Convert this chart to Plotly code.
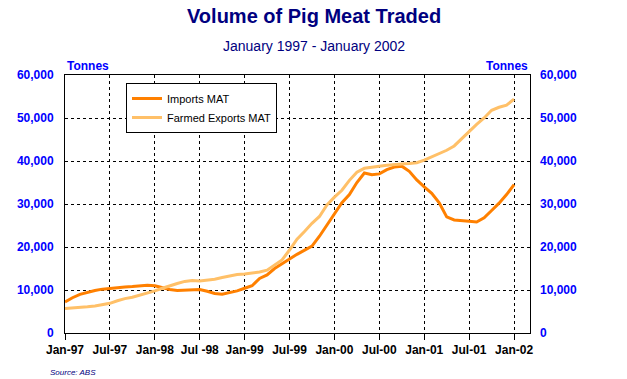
import plotly.graph_objects as go

months = list(range(61))  # Jan-97 .. Jan-02 (monthly)
tick_months = [0, 6, 12, 18, 24, 30, 36, 42, 48, 54, 60]
tick_labels = ["Jan-97", "Jul-97", "Jan-98", "Jul -98", "Jan-99", "Jul-99",
               "Jan-00", "Jul-00", "Jan-01", "Jul-01", "Jan-02"]
y_ticks = [0, 10000, 20000, 30000, 40000, 50000, 60000]
y_tick_labels = ["0", "10,000", "20,000", "30,000", "40,000", "50,000", "60,000"]

imports_mat = [
    7200, 8200, 9000, 9500, 9900, 10200, 10400, 10600, 10700, 10800, 11000, 11100,
    11000, 10500, 10100, 9900, 10000, 10100, 10100, 9700, 9200, 9000, 9400, 9800,
    10400, 11000, 12700, 13500, 15000, 16200, 17200, 18300, 19300, 20200, 22500, 25200,
    27800, 30300, 32200, 35000, 37200, 36800, 37000, 38000, 38600, 38800, 37600, 35600,
    34000, 32500, 30300, 27000, 26300, 26200, 26000, 25800, 26800, 28500, 30200, 32200,
    34500,
]
farmed_exports_mat = [
    5700, 5800, 5900, 6100, 6300, 6600, 6900, 7500, 8000, 8300, 8800, 9200,
    9800, 10400, 11000, 11500, 12000, 12200, 12100, 12300, 12500, 12900, 13300, 13600,
    13700, 13900, 14200, 14600, 15800, 17000, 19300, 21800, 23600, 25500, 27100, 29800,
    31600, 33200, 35500, 37400, 38300, 38600, 38800, 39000, 39200, 39300, 39400, 39600,
    40200, 41000, 41800, 42500, 43500, 45200, 46800, 48500, 50000, 51800, 52500, 53000,
    54400,
]

FONT = "Liberation Sans, Arial, sans-serif"
NAVY = "#000080"
BLUE = "#0000FF"

fig = go.Figure()
fig.add_trace(go.Scatter(x=months, y=imports_mat, mode="lines", name="Imports MAT",
                         line=dict(color="#FF8000", width=3)))
fig.add_trace(go.Scatter(x=months, y=farmed_exports_mat, mode="lines", name="Farmed Exports MAT",
                         line=dict(color="#FFC068", width=3)))
fig.add_trace(go.Scatter(x=months, y=farmed_exports_mat, yaxis="y2", mode="lines",
                         line=dict(width=0, color="rgba(0,0,0,0)"), showlegend=False,
                         hoverinfo="skip"))

L, R, T, B = 65, 97, 75, 46
W, H = 627, 379
pw, ph = W - L - R, H - T - B

def px_x(x):
    return (x - L) / pw

def px_y(y):
    return (H - B - y) / ph

fig.update_layout(
    width=W, height=H,
    margin=dict(l=L, r=R, t=T, b=B, pad=0, autoexpand=False),
    paper_bgcolor="white", plot_bgcolor="white",
    showlegend=True,
    legend=dict(x=px_x(126), y=px_y(83), xanchor="left", yanchor="top",
                bgcolor="white", bordercolor="black", borderwidth=1,
                font=dict(family=FONT, size=11, color="black"),
                itemwidth=30, tracegroupgap=0),
    xaxis=dict(range=[0, 62.13], tickmode="array", tickvals=tick_months, ticktext=tick_labels,
               showgrid=True, gridcolor="black", griddash="3px,3px", gridwidth=1,
               showline=True, linecolor="black", linewidth=1, mirror=True,
               ticks="outside", ticklen=6, tickcolor="black", tickwidth=1,
               tickfont=dict(family=FONT, size=12, color="black", weight="bold"),
               zeroline=False),
    yaxis=dict(range=[0, 60000], tickmode="array", tickvals=y_ticks, ticktext=y_tick_labels,
               showgrid=True, gridcolor="black", griddash="3px,3px", gridwidth=1,
               showline=True, linecolor="black", linewidth=1, mirror=True,
               ticks="", ticklabelstandoff=8,
               tickfont=dict(family=FONT, size=12, color=BLUE, weight="bold"),
               zeroline=False),
    yaxis2=dict(range=[0, 60000], overlaying="y", side="right", tickmode="array",
                tickvals=y_ticks, ticktext=y_tick_labels, showgrid=False, showline=False,
                ticks="", ticklabelstandoff=9, zeroline=False,
                tickfont=dict(family=FONT, size=12, color=BLUE, weight="bold")),
    annotations=[
        dict(text="<b>Volume of Pig Meat Traded</b>", x=px_x(313.5), y=px_y(16),
             xref="paper", yref="paper", showarrow=False, xanchor="center", yanchor="middle",
             font=dict(family=FONT, size=20, color=NAVY)),
        dict(text="January 1997 - January 2002", x=px_x(313.5), y=px_y(46),
             xref="paper", yref="paper", showarrow=False, xanchor="center", yanchor="middle",
             font=dict(family=FONT, size=14, color=NAVY)),
        dict(text="<b>Tonnes</b>", x=0, y=px_y(66), xref="paper", yref="paper",
             showarrow=False, xanchor="left", yanchor="middle",
             font=dict(family=FONT, size=12, color=BLUE)),
        dict(text="<b>Tonnes</b>", x=1, y=px_y(66), xref="paper", yref="paper",
             showarrow=False, xanchor="right", yanchor="middle",
             font=dict(family=FONT, size=12, color=BLUE)),
        dict(text="<i>Source: ABS</i>", x=px_x(48), y=px_y(372), xref="paper", yref="paper",
             showarrow=False, xanchor="left", yanchor="middle",
             font=dict(family=FONT, size=8, color=NAVY)),
    ],
)

fig.write_html("out.html", config={"displayModeBar": False},
               post_script="document.body.style.margin='0';document.body.style.padding='0';")
